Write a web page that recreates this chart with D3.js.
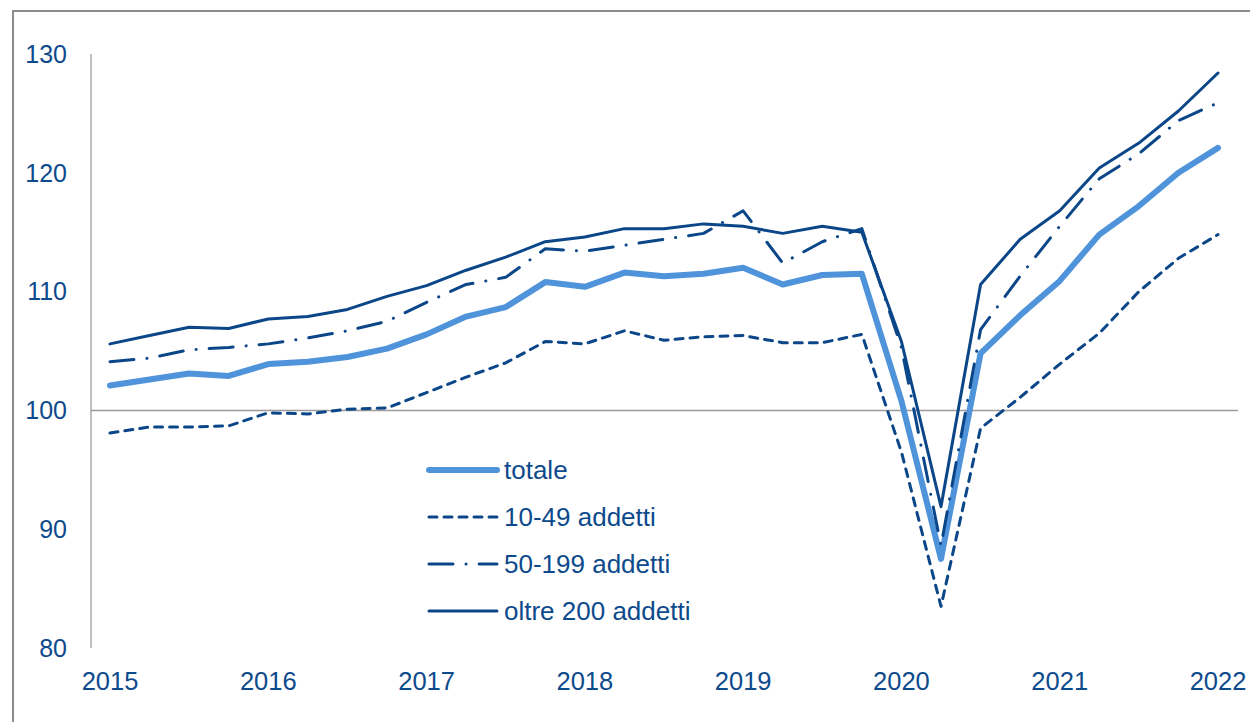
<!DOCTYPE html>
<html>
<head>
<meta charset="utf-8">
<script src="https://cdn.jsdelivr.net/npm/d3@7"></script>
<style>
  body { margin: 0; background: #fff; }
  svg { display: block; font-family: "Liberation Sans", Arial, sans-serif; }
</style>
</head>
<body>
<svg width="1250" height="722"></svg>
<script>
// quarterly data, 2015 Q1 .. 2022 Q1
const startYear = 2015;
const yearTicks = [2015, 2016, 2017, 2018, 2019, 2020, 2021, 2022];
const valueTicks = [80, 90, 100, 110, 120, 130];

const totale = [102.1, 102.6, 103.1, 102.9, 103.9, 104.1, 104.5, 105.2,
    106.4, 107.9, 108.7, 110.8, 110.4, 111.6, 111.3, 111.5,
    112.0, 110.6, 111.4, 111.5, 100.8, 87.5, 104.8, 108.0,
    110.9, 114.8, 117.2, 120.0, 122.1];

const small = [98.1, 98.6, 98.6, 98.7, 99.8, 99.7, 100.1, 100.2,
    101.5, 102.8, 104.0, 105.8, 105.6, 106.7, 105.9, 106.2,
    106.3, 105.7, 105.7, 106.4, 96.5, 83.5, 98.5, 101.1,
    103.9, 106.5, 110.0, 112.8, 114.8];

const medium = [104.1, 104.4, 105.1, 105.3, 105.6, 106.1, 106.7, 107.5,
    109.1, 110.6, 111.2, 113.6, 113.4, 113.9, 114.4, 114.9,
    116.8, 112.4, 114.2, 115.3, 105.3, 88.6, 106.8, 111.3,
    115.5, 119.5, 121.6, 124.4, 125.9];

const large = [105.6, 106.3, 107.0, 106.9, 107.7, 107.9, 108.5, 109.6,
    110.5, 111.8, 112.9, 114.2, 114.6, 115.3, 115.3, 115.7,
    115.5, 114.9, 115.5, 115.0, 105.8, 91.9, 110.6, 114.4,
    116.8, 120.4, 122.5, 125.2, 128.4];

const navy = '#0b4689';
const lightBlue = '#4f93db';
const textColor = '#0d4a8c';

const series = [
    {label: 'totale', values: totale, color: lightBlue, width: 6, dash: null},
    {label: '10-49 addetti', values: small, color: navy, width: 3, dash: '8,7'},
    {label: '50-199 addetti', values: medium, color: navy, width: 3, dash: '24,13,0.1,13'},
    {label: 'oltre 200 addetti', values: large, color: navy, width: 3, dash: null}
];

const svg = d3.select('svg');

// outer frame
svg.append('rect')
    .attr('x', 13).attr('y', 11)
    .attr('width', 1300).attr('height', 800)
    .attr('fill', 'none')
    .attr('stroke', '#8c8c8c')
    .attr('stroke-width', 2);

const x = d3.scaleLinear().domain([2015, 2022]).range([110, 1218]);
const y = d3.scaleLinear().domain([80, 130]).range([648, 54]);

// y axis line
svg.append('line')
    .attr('x1', 91).attr('x2', 91)
    .attr('y1', y(130)).attr('y2', y(80))
    .attr('stroke', '#ababab').attr('stroke-width', 1.5);

// base line at 100
svg.append('line')
    .attr('x1', 91).attr('x2', 1238)
    .attr('y1', y(100)).attr('y2', y(100))
    .attr('stroke', '#9a9a9a').attr('stroke-width', 1.5);

// y tick labels
svg.append('g').selectAll('text')
    .data(valueTicks)
    .enter().append('text')
    .attr('x', 67)
    .attr('y', d => y(d))
    .attr('dy', '0.35em')
    .attr('text-anchor', 'end')
    .attr('font-size', 25)
    .attr('fill', textColor)
    .text(d => d);

// x tick labels
svg.append('g').selectAll('text')
    .data(yearTicks)
    .enter().append('text')
    .attr('x', d => x(d))
    .attr('y', 690)
    .attr('text-anchor', 'middle')
    .attr('font-size', 25.5)
    .attr('fill', textColor)
    .text(d => d);

const line = d3.line()
    .x((d, i) => x(startYear + i * 0.25))
    .y(d => y(d));

// totale first, so the dark lines sit on top of it
series.forEach(function (s) {
    svg.append('path')
        .datum(s.values)
        .attr('d', line)
        .attr('fill', 'none')
        .attr('stroke', s.color)
        .attr('stroke-width', s.width)
        .attr('stroke-linejoin', 'round')
        .attr('stroke-linecap', 'round')
        .attr('stroke-dasharray', s.dash);
});

// legend
const legend = svg.append('g');
const rowY = [470, 517, 564, 611];
series.forEach(function (s, i) {
    legend.append('line')
        .attr('x1', 429).attr('x2', 497)
        .attr('y1', rowY[i]).attr('y2', rowY[i])
        .attr('stroke', s.color)
        .attr('stroke-width', s.width)
        .attr('stroke-linecap', 'round')
        .attr('stroke-dasharray', s.dash);
    legend.append('text')
        .attr('x', 504)
        .attr('y', rowY[i])
        .attr('dy', '0.35em')
        .attr('font-size', 26)
        .attr('fill', textColor)
        .text(s.label);
});
</script>
</body>
</html>
